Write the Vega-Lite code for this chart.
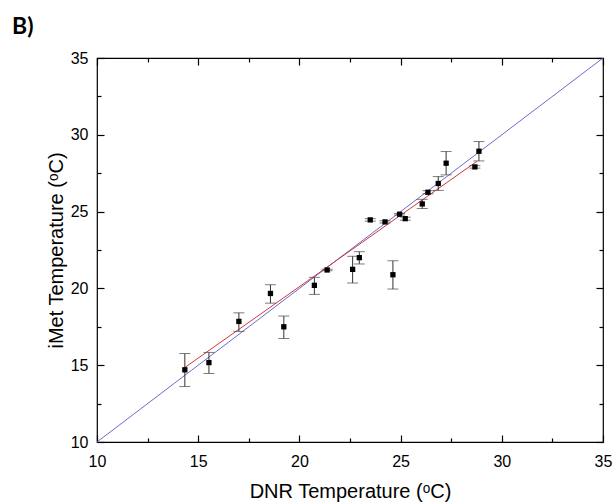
{
  "$schema": "https://vega.github.io/schema/vega-lite/v6.json",
  "width": 506,
  "height": 384,
  "autosize": {"type": "none"},
  "padding": {"left": 97, "top": 58, "right": 11, "bottom": 61},
  "background": "white",
  "title": {"text": "B)", "anchor": "start", "frame": "group", "dx": -85, "offset": 11, "fontSize": 23, "font": "Lato", "fontWeight": "bold", "color": "black"},
  "config": {
    "view": {"stroke": "black", "strokeWidth": 1.2},
    "axis": {"grid": false, "domain": false, "labelFont": "Liberation Sans", "titleFont": "Liberation Sans", "labelFontSize": 16, "titleFontSize": 20, "labelColor": "black", "titleColor": "black", "tickColor": "black", "titleFontWeight": "normal", "tickWidth": 1.2, "labelFlush": false, "labelOverlap": false}
  },
  "datasets": {
    "pts": [
      {"dnr": 14.34, "imet": 14.70, "lo": 13.61, "hi": 15.76},
      {"dnr": 15.53, "imet": 15.17, "lo": 14.46, "hi": 15.83},
      {"dnr": 17.01, "imet": 17.85, "lo": 17.20, "hi": 18.41},
      {"dnr": 18.57, "imet": 19.67, "lo": 19.04, "hi": 20.24},
      {"dnr": 19.23, "imet": 17.50, "lo": 16.74, "hi": 18.20},
      {"dnr": 20.74, "imet": 20.20, "lo": 19.61, "hi": 20.72},
      {"dnr": 21.37, "imet": 21.20, "lo": 21.15, "hi": 21.25},
      {"dnr": 22.63, "imet": 21.24, "lo": 20.35, "hi": 22.09},
      {"dnr": 22.96, "imet": 22.00, "lo": 21.59, "hi": 22.39},
      {"dnr": 23.50, "imet": 24.46, "lo": 24.38, "hi": 24.54},
      {"dnr": 24.23, "imet": 24.33, "lo": 24.26, "hi": 24.40},
      {"dnr": 24.62, "imet": 20.89, "lo": 19.96, "hi": 21.80},
      {"dnr": 24.95, "imet": 24.83, "lo": 24.78, "hi": 24.88},
      {"dnr": 25.23, "imet": 24.54, "lo": 24.44, "hi": 24.64},
      {"dnr": 26.07, "imet": 25.50, "lo": 25.20, "hi": 25.80},
      {"dnr": 26.35, "imet": 26.26, "lo": 26.16, "hi": 26.36},
      {"dnr": 26.86, "imet": 26.83, "lo": 26.38, "hi": 27.28},
      {"dnr": 27.25, "imet": 28.15, "lo": 27.39, "hi": 28.91},
      {"dnr": 28.67, "imet": 27.91, "lo": 27.83, "hi": 27.99},
      {"dnr": 28.87, "imet": 28.93, "lo": 28.30, "hi": 29.56}
    ],
    "identity": [{"dnr": 10, "imet": 10}, {"dnr": 35, "imet": 35}],
    "fit": [{"dnr": 14.34, "imet": 14.85}, {"dnr": 28.78, "imet": 28.28}]
  },
  "resolve": {"axis": {"x": "independent", "y": "independent"}},
  "layer": [
    {
      "data": {"name": "identity"},
      "mark": {"type": "line", "color": "#6a6ad0", "strokeWidth": 1},
      "encoding": {
        "x": {"field": "dnr", "type": "quantitative", "scale": {"domain": [10, 35], "nice": false, "zero": false},
          "axis": {"orient": "bottom", "title": "DNR Temperature (ᵒC)", "values": [10, 12.5, 15, 17.5, 20, 22.5, 25, 27.5, 30, 32.5, 35],
            "labelExpr": "datum.value % 5 === 0 ? datum.label : ''",
            "tickSize": {"condition": {"test": "datum.value % 5 === 0", "value": -7}, "value": -4},
            "labelPadding": 18, "titlePadding": 9}},
        "y": {"field": "imet", "type": "quantitative", "scale": {"domain": [10, 35], "nice": false, "zero": false},
          "axis": {"orient": "left", "title": "iMet Temperature (ᵒC)", "values": [10, 12.5, 15, 17.5, 20, 22.5, 25, 27.5, 30, 32.5, 35],
            "labelExpr": "datum.value % 5 === 0 ? datum.label : ''",
            "tickSize": {"condition": {"test": "datum.value % 5 === 0", "value": -7}, "value": -4},
            "labelPadding": 16, "titlePadding": 4}}
      }
    },
    {
      "data": {"name": "fit"},
      "mark": {"type": "line", "color": "#d03838", "strokeWidth": 1},
      "encoding": {
        "x": {"field": "dnr", "type": "quantitative",
          "axis": {"orient": "top", "title": null, "labels": false, "values": [10, 12.5, 15, 17.5, 20, 22.5, 25, 27.5, 30, 32.5, 35],
            "tickSize": {"condition": {"test": "datum.value % 5 === 0", "value": -7}, "value": -4}}},
        "y": {"field": "imet", "type": "quantitative",
          "axis": {"orient": "right", "title": null, "labels": false, "values": [10, 12.5, 15, 17.5, 20, 22.5, 25, 27.5, 30, 32.5, 35],
            "tickSize": {"condition": {"test": "datum.value % 5 === 0", "value": -7}, "value": -4}}}
      }
    },
    {
      "data": {"name": "pts"},
      "mark": {"type": "rule", "color": "#333333", "strokeWidth": 1},
      "encoding": {
        "x": {"field": "dnr", "type": "quantitative", "axis": null},
        "y": {"field": "lo", "type": "quantitative", "axis": null},
        "y2": {"field": "hi"}
      }
    },
    {
      "data": {"name": "pts"},
      "transform": [{"fold": ["lo", "hi"], "as": ["end", "val"]}],
      "mark": {"type": "tick", "orient": "horizontal", "color": "#444444", "size": 11, "thickness": 1},
      "encoding": {
        "x": {"field": "dnr", "type": "quantitative", "axis": null},
        "y": {"field": "val", "type": "quantitative", "axis": null}
      }
    },
    {
      "data": {"name": "pts"},
      "mark": {"type": "square", "color": "black", "filled": true, "opacity": 1, "size": 28},
      "encoding": {
        "x": {"field": "dnr", "type": "quantitative", "axis": null},
        "y": {"field": "imet", "type": "quantitative", "axis": null}
      }
    }
  ]
}
